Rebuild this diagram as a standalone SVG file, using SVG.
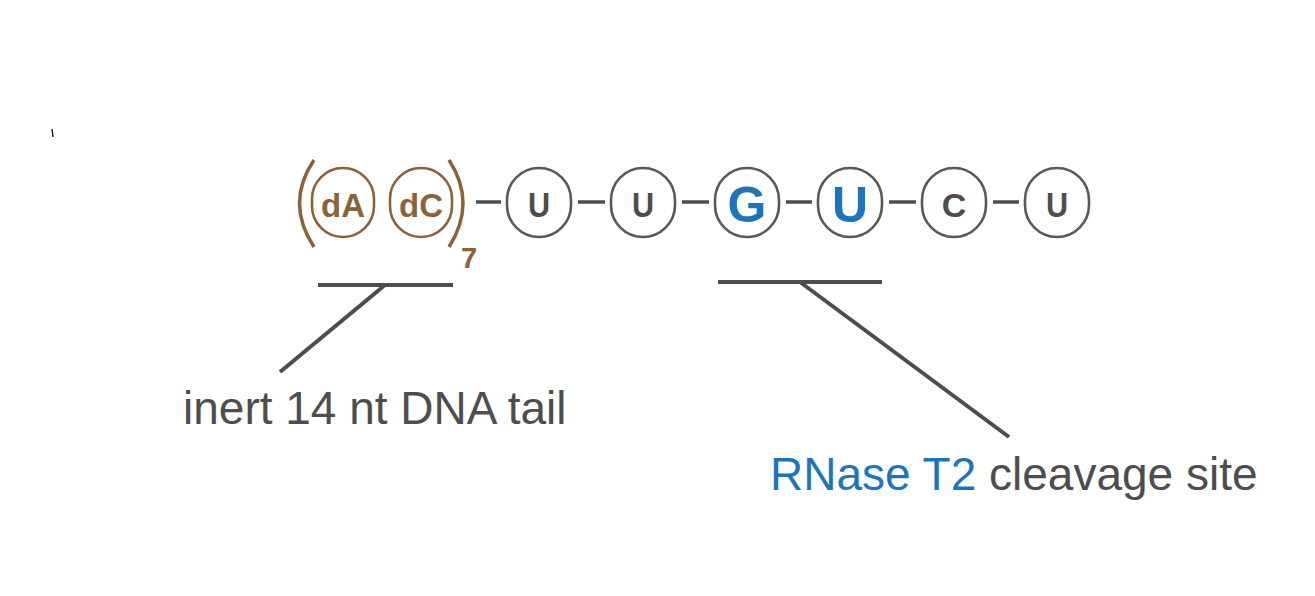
<svg xmlns="http://www.w3.org/2000/svg" width="1315" height="596" viewBox="0 0 1315 596">
<style>
.nt{fill:#ffffff;stroke:#58595b;stroke-width:2.6}
.dn{fill:#ffffff;stroke:#8c6239;stroke-width:2.6}
.lt{font-family:"Liberation Sans",Arial,sans-serif;font-weight:bold;text-anchor:middle}
.gray{fill:#4d4d4d}
.blue{fill:#1c75bc}
.brown{fill:#8c6239}
.ln{stroke:#4d4d4d;stroke-width:4;fill:none}
.dash{stroke:#4d4d4d;stroke-width:3.5;fill:none}
.lab{font-family:"Liberation Sans",Arial,sans-serif;font-size:46px}
</style>
<rect width="1315" height="596" fill="#ffffff"/>
<path d="M52 129 L53 137" stroke="#222" stroke-width="1.5"/>
<g id="tail">
<path d="M314 160 Q285 203 314 247" stroke="#8c6239" stroke-width="3.5" fill="none"/>
<path d="M449 160 Q477 203 449 247" stroke="#8c6239" stroke-width="3.5" fill="none"/>
<text x="461" y="268" class="brown" style="font-family:'Liberation Sans',Arial,sans-serif;font-size:29px;font-weight:bold">7</text>
</g>
<g id="dA"><rect x="312" y="168" width="62" height="69" rx="31" ry="31" class="dn"/><text x="343" y="217" class="lt brown" font-size="33">dA</text></g>
<g id="dC"><rect x="390" y="168" width="62" height="69" rx="31" ry="31" class="dn"/><text x="421" y="217" class="lt brown" font-size="33">dC</text></g>
<g id="n1"><rect x="507" y="168" width="64" height="69" rx="32" ry="32" class="nt"/><text transform="translate(539 217) scale(0.85 1)" class="lt gray" font-size="36">U</text></g>
<g id="n2"><rect x="611" y="168" width="64" height="69" rx="32" ry="32" class="nt"/><text transform="translate(643 217) scale(0.85 1)" class="lt gray" font-size="36">U</text></g>
<g id="n3"><rect x="715" y="168" width="64" height="69" rx="32" ry="32" class="nt"/><text x="747" y="222" class="lt blue" font-size="50">G</text></g>
<g id="n4"><rect x="818" y="168" width="64" height="69" rx="32" ry="32" class="nt"/><text x="850" y="222" class="lt blue" font-size="50">U</text></g>
<g id="n5"><rect x="922" y="168" width="64" height="69" rx="32" ry="32" class="nt"/><text x="954" y="217" class="lt gray" font-size="34">C</text></g>
<g id="n6"><rect x="1025" y="168" width="64" height="69" rx="32" ry="32" class="nt"/><text transform="translate(1057 217) scale(0.85 1)" class="lt gray" font-size="36">U</text></g>
<g id="connectors">
<line x1="476" y1="202" x2="501" y2="202" class="dash"/>
<line x1="578" y1="202" x2="605" y2="202" class="dash"/>
<line x1="682" y1="202" x2="709" y2="202" class="dash"/>
<line x1="786" y1="202" x2="812" y2="202" class="dash"/>
<line x1="889" y1="202" x2="916" y2="202" class="dash"/>
<line x1="993" y1="202" x2="1019" y2="202" class="dash"/>
<line x1="318" y1="285" x2="453" y2="285" class="ln"/>
<line x1="385" y1="285" x2="280" y2="372" class="ln"/>
<line x1="718" y1="282" x2="882" y2="282" class="ln"/>
<line x1="800" y1="282" x2="1009" y2="437" class="ln"/>
</g>
<g id="labels">
<text x="183" y="424" class="lab gray">inert 14 nt DNA tail</text>
<text x="770" y="490" class="lab"><tspan class="blue">RNase T2</tspan><tspan class="gray"> cleavage site</tspan></text>
</g>
</svg>
